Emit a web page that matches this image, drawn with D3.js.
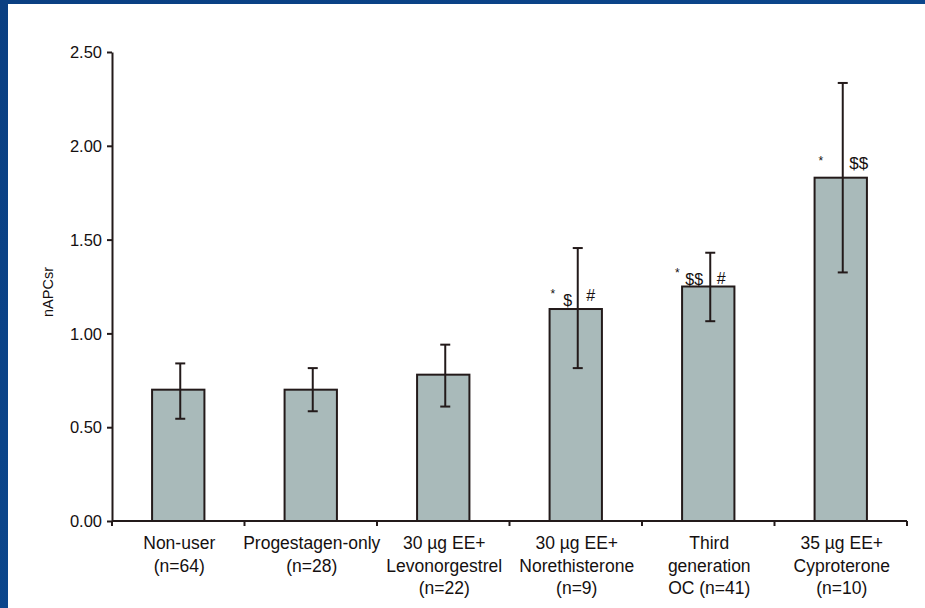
<!DOCTYPE html>
<html>
<head>
<meta charset="utf-8">
<script src="https://cdn.jsdelivr.net/npm/d3@7"></script>
<style>
  html, body { margin: 0; padding: 0; background: #0b4589; }
  svg { display: block; }
  text { font-family: "Liberation Sans", Arial, Helvetica, sans-serif; fill: #151010; }
</style>
</head>
<body>
<svg id="chart" width="925" height="608"></svg>
<script>
// Groups (multi-line axis labels)
const categories = [
  ["Non-user", "(n=64)"],
  ["Progestagen-only", "(n=28)"],
  ["30 µg EE+", "Levonorgestrel", "(n=22)"],
  ["30 µg EE+", "Norethisterone", "(n=9)"],
  ["Third", "generation", "OC (n=41)"],
  ["35 µg EE+", "Cyproterone", "(n=10)"]
];
// nAPCsr mean and error-bar limits per group
const means = [0.70, 0.70, 0.78, 1.13, 1.25, 1.83];
const errLow = [0.545, 0.585, 0.61, 0.815, 1.065, 1.325];
const errHigh = [0.84, 0.815, 0.94, 1.455, 1.43, 2.335];
// significance markers per group
const markers = [
  [], [], [],
  ["*", "$", "#"],
  ["*", "$$", "#"],
  ["*", "$$"]
];
const yTicks = [0, 0.5, 1.0, 1.5, 2.0, 2.5];
const yLabel = "nAPCsr";

const svg = d3.select("#chart");
const W = 925, H = 608;

// blue slide frame with white panel
const defs = svg.append("defs");
const grad = defs.append("linearGradient").attr("id", "frame")
  .attr("x1", 0).attr("y1", 0).attr("x2", 1).attr("y2", 1);
grad.append("stop").attr("offset", 0).attr("stop-color", "#0a3f82");
grad.append("stop").attr("offset", 1).attr("stop-color", "#0d4d95");
svg.append("rect").attr("width", W).attr("height", H).attr("fill", "url(#frame)");
svg.append("rect").attr("x", 8).attr("y", 4).attr("width", W - 8).attr("height", H - 4).attr("fill", "#ffffff");

const x0 = 112, x1 = 907, yTop = 52, yBase = 521;
const x = d3.scaleBand().domain(d3.range(categories.length)).range([x0, x1]).paddingInner(0).paddingOuter(0);
const y = d3.scaleLinear().domain([0, 2.5]).range([yBase, yTop]);
const barW = x.bandwidth() * 0.395;
const ink = "#231a1a";

// bars
svg.append("g").selectAll("rect").data(means).join("rect")
  .attr("x", (d, i) => x(i) + x.bandwidth() / 2 - barW / 2)
  .attr("y", d => y(d))
  .attr("width", barW)
  .attr("height", d => y(0) - y(d))
  .attr("fill", "#a9baba")
  .attr("stroke", ink)
  .attr("stroke-width", 2);

// error bars
const eb = svg.append("g").attr("stroke", ink).attr("stroke-width", 2);
means.forEach((m, i) => {
  const cx = x(i) + x.bandwidth() / 2 + 2;
  eb.append("line").attr("x1", cx).attr("x2", cx).attr("y1", y(errLow[i])).attr("y2", y(errHigh[i]));
  eb.append("line").attr("x1", cx - 5).attr("x2", cx + 5).attr("y1", y(errHigh[i])).attr("y2", y(errHigh[i]));
  eb.append("line").attr("x1", cx - 5).attr("x2", cx + 5).attr("y1", y(errLow[i])).attr("y2", y(errLow[i]));
});

// y axis
const yAxis = d3.axisLeft(y).tickValues(yTicks).tickFormat(d3.format(".2f")).tickSize(5).tickSizeOuter(0).tickPadding(5);
const gy = svg.append("g").attr("transform", `translate(${x0},0)`).call(yAxis);
gy.select(".domain").attr("stroke", ink).attr("stroke-width", 2);
gy.selectAll(".tick line").attr("stroke", ink).attr("stroke-width", 2);
gy.selectAll(".tick text").attr("font-size", 16.5).attr("fill", "#151010")
  .attr("font-family", '"Liberation Sans", Arial, sans-serif').attr("dy", "0.35em");

// x axis: ticks at group boundaries
const xAxisG = svg.append("g");
xAxisG.append("line").attr("x1", x0).attr("x2", x1).attr("y1", yBase).attr("y2", yBase)
  .attr("stroke", ink).attr("stroke-width", 2);
xAxisG.selectAll("line.tk").data(d3.range(categories.length + 1)).join("line")
  .attr("class", "tk")
  .attr("x1", d => x0 + d * x.step()).attr("x2", d => x0 + d * x.step())
  .attr("y1", yBase).attr("y2", yBase + 5)
  .attr("stroke", ink).attr("stroke-width", 2);

// category labels
const lab = svg.append("g");
categories.forEach((lines, i) => {
  const t = lab.append("text")
    .attr("x", x(i) + x.bandwidth() / 2 + 1)
    .attr("y", 549)
    .attr("text-anchor", "middle")
    .attr("font-size", 17.5);
  lines.forEach((s, k) => {
    t.append("tspan").attr("x", x(i) + x.bandwidth() / 2 + 1).attr("dy", k === 0 ? 0 : 22.5).text(s);
  });
});

// y label
svg.append("text")
  .attr("transform", `translate(53,${292}) rotate(-90)`)
  .attr("text-anchor", "middle")
  .attr("font-size", 14.5)
  .text(yLabel);

// significance markers, placed just above each bar
const markLayout = {
  3: [[-23, -11, 12], [-8, -3, 16], [15, -8, 16]],
  4: [[-31, -10, 12], [-14, -2, 16], [13, -3, 16]],
  5: [[-20, -13, 12], [18, -9, 17]]
};
markers.forEach((ms, i) => {
  ms.forEach((s, k) => {
    const [dx, dy, fs] = markLayout[i][k];
    svg.append("text")
      .attr("x", x(i) + x.bandwidth() / 2 + dx)
      .attr("y", y(means[i]) + dy)
      .attr("text-anchor", "middle")
      .attr("font-size", fs)
      .text(s);
  });
});
</script>
</body>
</html>
